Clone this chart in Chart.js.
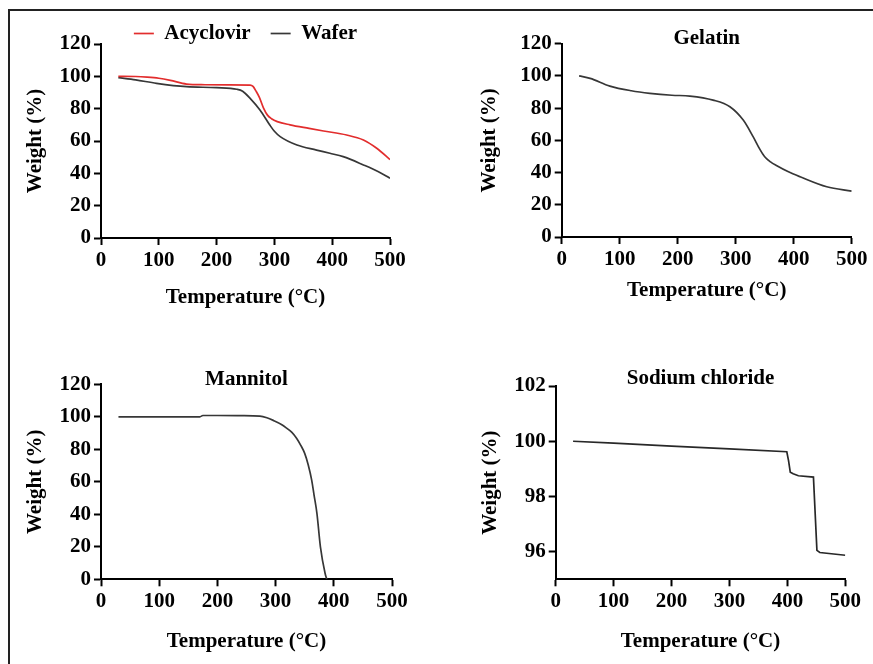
<!DOCTYPE html>
<html>
<head>
<meta charset="utf-8">
<script src="https://cdn.jsdelivr.net/npm/chart.js@4.4.1/dist/chart.umd.min.js"></script>
<style>
  body { margin: 0; background: #fff; }
  .page { position: relative; width: 873px; height: 664px; overflow: hidden; background: #fff; }
  canvas { position: absolute; }
  .frame_top { position: absolute; left: 8px; top: 9px; width: 865px; height: 2px; background: #222; }
  .frame_left { position: absolute; left: 8px; top: 9px; width: 2px; height: 655px; background: #222; }
</style>
</head>
<body>
<div class="page">
  <canvas id="chart_tl" width="436" height="332" style="left:0;top:0"></canvas>
  <canvas id="chart_tr" width="437" height="332" style="left:436px;top:0"></canvas>
  <canvas id="chart_bl" width="436" height="332" style="left:0;top:332px"></canvas>
  <canvas id="chart_br" width="437" height="332" style="left:436px;top:332px"></canvas>
  <div class="frame_top"></div>
  <div class="frame_left"></div>
</div>
<script>
// temperature (°C) / weight (%)
const acyclovirTemp = [30, 60, 80, 100, 120, 148, 180, 220, 258, 263, 268, 274, 281, 288, 295, 305, 327, 360, 385, 425, 454, 477, 500];
const acyclovirWeight = [100, 99.9, 99.5, 98.8, 97.5, 95.2, 94.8, 94.7, 94.6, 93.8, 91, 87, 80.5, 76, 73.8, 72, 70, 67.8, 66.2, 63.7, 60.6, 55.5, 48.5];

const waferTemp = [30, 60, 96, 148, 200, 235, 245, 258, 275, 292, 300, 310, 339, 373, 396, 419, 454, 480, 500];
const waferWeight = [99.2, 97.8, 95.7, 93.6, 93, 92, 90.8, 86.4, 79.2, 69.9, 66, 62.7, 57.5, 54.4, 52.4, 50.3, 45.2, 41, 37];

const gelatinTemp = [30, 49, 83, 120, 152, 190, 221, 261, 290, 313, 330, 342, 350, 360, 371, 390, 411, 457, 500];
const gelatinWeight = [100, 98.5, 93.7, 90.8, 89.2, 88, 87.5, 85, 80.9, 72.6, 62.3, 54.2, 49.8, 46.6, 44.2, 40.6, 37.4, 31.2, 28.5];

const mannitolTemp = [30, 170, 175, 200, 240, 273, 285, 296, 310, 319, 328, 336, 343, 350, 356, 362, 366, 371, 377, 385, 388];
const mannitolWeight = [100, 100, 100.8, 100.8, 100.7, 100.4, 99.4, 97.8, 95.3, 93, 90.4, 86.8, 82.6, 77.5, 70.5, 61, 52, 40.6, 20, 3.7, 0];

const naclTemp = [30, 100, 200, 300, 399, 402, 405, 410, 419, 445, 451, 456, 500];
const naclWeight = [100, 99.93, 99.82, 99.72, 99.62, 99.3, 98.88, 98.82, 98.75, 98.7, 96.05, 95.97, 95.87];

const tempTicks = [0, 100, 200, 300, 400, 500];
const weightTicks = [0, 20, 40, 60, 80, 100, 120];
const naclTicks = [96, 98, 100, 102];

const serif = "'Liberation Serif', 'Times New Roman', serif";
const FS = 21;
const HALF = FS * 1.2 / 2;
const boldFont = { family: serif, size: FS, weight: 'bold', lineHeight: 1.2 };

const toPoints = (xs, ys) => xs.map((x, i) => ({ x: x, y: ys[i] }));

const makeLine = (label, xs, ys, colour, smooth) => ({
    label: label,
    data: toPoints(xs, ys),
    borderColor: colour,
    backgroundColor: colour,
    borderWidth: 1.7,
    pointRadius: 0,
    cubicInterpolationMode: smooth ? 'monotone' : 'default',
    tension: 0,
    fill: false
});

const axisStyle = {
    grid: { display: true, drawOnChartArea: false, drawTicks: true, tickLength: 7, tickWidth: 2, tickColor: '#000' },
    border: { display: true, color: '#000', width: 2 }
};

// box = where the plot area sits inside its canvas, plus where the titles go
const buildChart = (id, datasets, box, yRange, yTickValues, extra) => {
    const canvas = document.getElementById(id);
    const W = canvas.width, H = canvas.height;
    const padLeft = box.yTitleX - HALF;
    const padBottom = H - (box.xTitleY + HALF);
    return new Chart(canvas, {
        type: 'line',
        data: { datasets: datasets },
        options: {
            responsive: false,
            animation: false,
            layout: { padding: { left: padLeft, right: W - box.right, top: box.padTop, bottom: padBottom } },
            scales: {
                x: {
                    type: 'linear', min: 0, max: 500,
                    ...axisStyle,
                    afterBuildTicks: (s) => { s.ticks = tempTicks.map(v => ({ value: v })); },
                    afterFit: (s) => { s.height = box.xTitleY + HALF - box.bottom; },
                    ticks: { color: '#000', font: boldFont, padding: 3, maxRotation: 0 },
                    title: { display: true, text: 'Temperature (°C)', color: '#000', font: boldFont, padding: 0 }
                },
                y: {
                    type: 'linear', min: yRange[0], max: yRange[1],
                    ...axisStyle,
                    afterBuildTicks: (s) => { s.ticks = yTickValues.map(v => ({ value: v })); },
                    afterFit: (s) => { s.width = box.left - padLeft; },
                    ticks: { color: '#000', font: boldFont, padding: 3 },
                    title: { display: true, text: 'Weight (%)', color: '#000', font: boldFont, padding: 0 }
                }
            },
            plugins: Object.assign({
                legend: { display: false },
                title: { display: false },
                tooltip: { enabled: false }
            }, extra)
        }
    });
};

const panelTitle = (text, centreY, chartTop, padTop) => ({
    display: true, text: text, color: '#000', font: boldFont, fullSize: false,
    padding: { top: centreY - padTop - HALF, bottom: chartTop - centreY - HALF }
});

// Acyclovir + wafer
buildChart('chart_tl', [
    makeLine('Acyclovir', acyclovirTemp, acyclovirWeight, 'rgb(226, 45, 45)', true),
    makeLine('Wafer', waferTemp, waferWeight, 'rgb(55, 55, 55)', true)
], { left: 101, right: 390, bottom: 238, yTitleX: 36, xTitleY: 298, padTop: 3 }, [0, 120], weightTicks, {
    legend: {
        display: true, position: 'top', align: 'center', fullSize: false, maxHeight: 41,
        labels: {
            color: '#000', font: boldFont, padding: 20,
            usePointStyle: true, pointStyle: 'line', pointStyleWidth: 20, boxHeight: 20
        }
    }
});

// Gelatin
buildChart('chart_tr', [
    makeLine('Gelatin', gelatinTemp, gelatinWeight, 'rgb(55, 55, 55)', true)
], { left: 125.7, right: 415.7, bottom: 237, yTitleX: 54, xTitleY: 291, padTop: 26 }, [0, 120], weightTicks, {
    title: panelTitle('Gelatin', 39, 43.7, 26)
});

// Mannitol
buildChart('chart_bl', [
    makeLine('Mannitol', mannitolTemp, mannitolWeight, 'rgb(55, 55, 55)', true)
], { left: 101, right: 392, bottom: 247.3, yTitleX: 36, xTitleY: 309.7, padTop: 34 }, [0, 120], weightTicks, {
    title: panelTitle('Mannitol', 47.7, 52.3, 34)
});

// Sodium chloride
buildChart('chart_br', [
    makeLine('Sodium chloride', naclTemp, naclWeight, 'rgb(40, 40, 40)', false)
], { left: 119.7, right: 409.3, bottom: 247.3, yTitleX: 55, xTitleY: 309.7, padTop: 34 }, [95, 102], naclTicks, {
    title: panelTitle('Sodium chloride', 47, 54, 34)
});
</script>
</body>
</html>
